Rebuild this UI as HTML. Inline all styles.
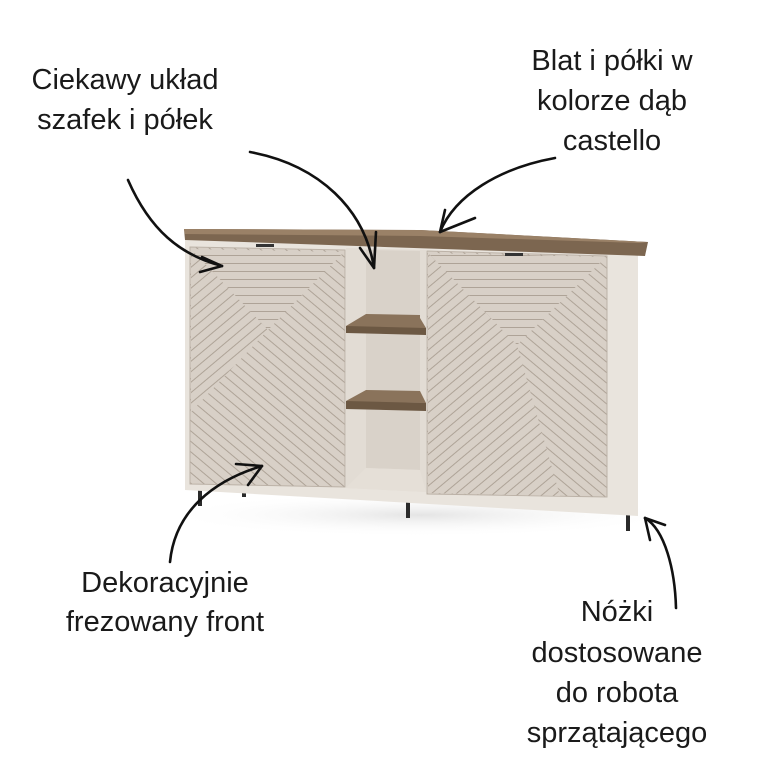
<!DOCTYPE html>
<html><head><meta charset="utf-8"><style>
html,body{margin:0;padding:0;background:#fff;width:768px;height:768px;overflow:hidden}
svg{display:block}
text{font-family:"Liberation Sans Narrow","Liberation Sans",sans-serif;font-size:29px;fill:#1a1a1a;text-anchor:middle}
</style></head><body>
<svg width="768" height="768" viewBox="0 0 768 768" xmlns="http://www.w3.org/2000/svg">
<defs>
<pattern id="ph" width="8" height="8" patternUnits="userSpaceOnUse"><rect width="8" height="8" fill="#d8d0c7"/><line x1="0" y1="7.5" x2="8" y2="7.5" stroke="#a99e92" stroke-width="0.9"/></pattern>
<pattern id="pa" width="8" height="8" patternUnits="userSpaceOnUse" patternTransform="rotate(40)"><rect width="8" height="8" fill="#d8d0c7"/><line x1="0" y1="7.5" x2="8" y2="7.5" stroke="#a99e92" stroke-width="0.9"/></pattern>
<pattern id="pb" width="8" height="8" patternUnits="userSpaceOnUse" patternTransform="rotate(-40)"><rect width="8" height="8" fill="#d8d0c7"/><line x1="0" y1="7.5" x2="8" y2="7.5" stroke="#a99e92" stroke-width="0.9"/></pattern>
<radialGradient id="sh" cx="0.5" cy="0.5" r="0.5"><stop offset="0" stop-color="#e4e4e4"/><stop offset="1" stop-color="#fff" stop-opacity="0"/></radialGradient>
</defs>
<ellipse cx="420" cy="515" rx="260" ry="22" fill="url(#sh)"/>
<rect x="198" y="478" width="4" height="28" fill="#2a2a2a"/>
<rect x="242" y="480" width="4" height="17" fill="#2a2a2a"/>
<rect x="406" y="488" width="4" height="30" fill="#2a2a2a"/>
<rect x="626" y="505" width="4" height="26" fill="#2a2a2a"/>
<polygon points="185,238 638,252 638,516 185,490" fill="#e9e4dd"/>
<polygon points="346,248 426,250 426,492 346,488" fill="#e2dcd4"/>
<polygon points="366,250 420,251 420,470 366,468" fill="#d9d2c9"/>
<polygon points="346,488 366,468 420,470 426,492" fill="#e5dfd7"/>
<polygon points="346,326 366,314 420,315 420,318 426,328 426,331 346,330" fill="#8a735b"/>
<polygon points="346,326 426,328 426,335 346,333" fill="#6c5843"/>
<polygon points="346,401 366,390 420,391 426,403 346,402" fill="#8a735b"/>
<polygon points="346,401 426,403 426,411 346,409" fill="#6c5843"/>
<polygon points="190,247 345,250 345,487 190,484" fill="url(#pa)" stroke="#bcb2a7" stroke-width="1"/>
<polygon points="191,249 344,252 268,330" fill="url(#ph)"/>
<polygon points="191,249 268,330 191,412" fill="url(#pb)"/>
<polygon points="427,251 607,256 607,497 427,494" fill="url(#pa)" stroke="#bcb2a7" stroke-width="1"/>
<polygon points="428,253 606,257 517,345" fill="url(#ph)"/>
<polygon points="428,253 517,345 560,496 428,493" fill="url(#pb)"/>
<rect x="256" y="244" width="18" height="3" fill="#333"/>
<rect x="505" y="253" width="18" height="3" fill="#333"/>
<polygon points="184,229 420,230 648,242 645,256 185,240" fill="#7c6650"/>
<polygon points="184,229 420,230 648,242 640,243 420,236 185,234" fill="#9a8167"/>
<g fill="none" stroke="#111" stroke-width="2.6" stroke-linecap="round">
<path d="M128,180 C150,230 180,255 222,266"/>
<path d="M222,266 L202,257 M222,266 L200,272"/>
<path d="M250,152 C320,165 365,210 374,268"/>
<path d="M374,268 L360,248 M374,268 L376,232"/>
<path d="M555,158 C500,168 455,195 440,232"/>
<path d="M440,232 L445,210 M440,232 L475,218"/>
<path d="M170,562 C175,510 215,480 262,466"/>
<path d="M262,466 L236,464 M262,466 L248,485"/>
<path d="M676,608 C675,570 665,530 645,518"/>
<path d="M645,518 L650,540 M645,518 L665,525"/>
</g>
<text x="125" y="89">Ciekawy układ</text>
<text x="125" y="129">szafek i półek</text>
<text x="612" y="70">Blat i półki w</text>
<text x="612" y="110">kolorze dąb</text>
<text x="612" y="150">castello</text>
<text x="165" y="592">Dekoracyjnie</text>
<text x="165" y="631">frezowany front</text>
<text x="617" y="621">Nóżki</text>
<text x="617" y="662">dostosowane</text>
<text x="617" y="702">do robota</text>
<text x="617" y="742">sprzątającego</text>
</svg>
</body></html>
